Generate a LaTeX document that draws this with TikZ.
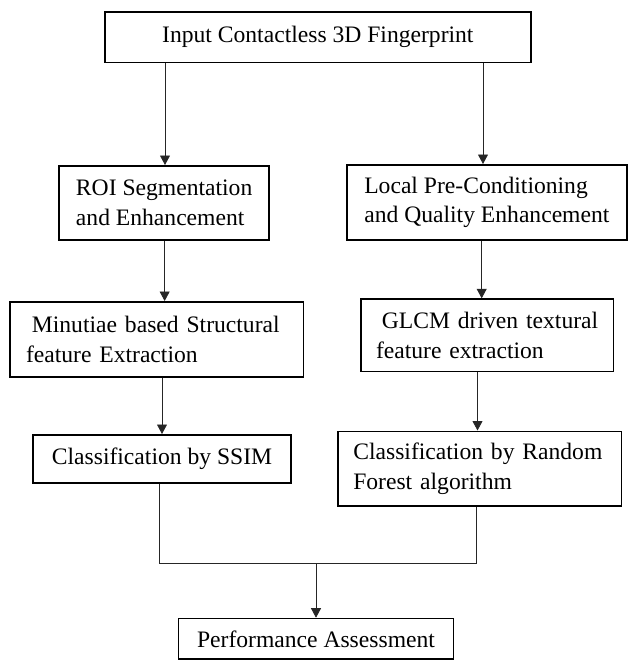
\documentclass[tikz,border=0pt]{standalone}
\usepackage{fontspec}
\setmainfont{Liberation Serif}
\usetikzlibrary{arrows.meta}
\begin{document}
\begin{tikzpicture}[x=1pt,y=-1pt,
  box/.style={draw=black,line width=1.7pt,rectangle,inner sep=0pt,align=left,
    font=\fontsize{23.6pt}{29.5pt}\selectfont},
  conn/.style={draw=black!85,line width=0.8pt},
  arr/.style={conn,-{Triangle[length=9.5pt,width=10pt]}}]
\useasboundingbox (0,0) rectangle (629,666);
\node[box,minimum width=426pt,minimum height=50.6pt] (top) at (317.85,37.15) {Input Contactless 3D Fingerprint};
\node[box,minimum width=210pt,minimum height=74.3pt] (roi) at (164.15,203) {ROI Segmentation\\and Enhancement};
\node[box,minimum width=280pt,minimum height=75.3pt] (local) at (486.85,202.5) {Local Pre-Conditioning\\and Quality Enhancement};
\node[box,minimum width=293.6pt,minimum height=74.8pt,text width=261.3pt] (minu) at (156.65,339.25) {\hspace*{0.25em}Minutiae based Structural\\feature Extraction};
\node[box,minimum width=252.6pt,minimum height=72.3pt,text width=222.3pt] (glcm) at (487.15,335.3) {\hspace*{0.25em}GLCM driven textural\\feature extraction};
\node[box,minimum width=257.7pt,minimum height=47.8pt] (ssim) at (162,458.75) {Classification by SSIM};
\node[box,minimum width=283.3pt,minimum height=74.8pt,text width=253pt] (rf) at (479.8,468.75) {Classification by Random\\Forest algorithm};
\node[box,minimum width=274.9pt,minimum height=40.6pt] (perf) at (316,638.85) {Performance Assessment};
\coordinate (j) at (316,563.3);
\draw[arr] ([xshift=0.85pt]roi.north |- top.south) -- ([xshift=0.85pt]roi.north);
\draw[arr] ([xshift=-3.85pt]local.north |- top.south) -- ([xshift=-3.85pt]local.north);
\draw[arr] ([xshift=0.5pt]roi.south) -- ([xshift=0.5pt]roi.south |- minu.north);
\draw[arr] ([xshift=-5.15pt]local.south) -- ([xshift=-5.15pt]local.south |- glcm.north);
\draw[arr] (ssim.north |- minu.south) -- (ssim.north);
\draw[arr] ([xshift=-2.3pt]rf.north |- glcm.south) -- ([xshift=-2.3pt]rf.north);
\draw[conn] ([xshift=-2.7pt]ssim.south) |- (j) -| ([xshift=-3.1pt]rf.south);
\draw[arr] (j) -- (perf.north);
\end{tikzpicture}
\end{document}
